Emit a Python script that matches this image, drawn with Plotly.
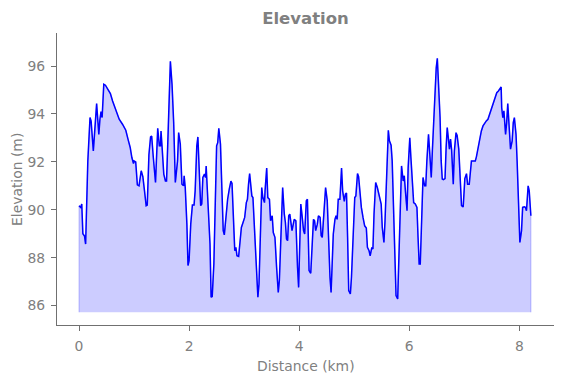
import plotly.graph_objects as go

distance_km = [
    0.00, 0.03, 0.05, 0.07, 0.10, 0.12, 0.16, 0.20, 0.22, 0.26, 0.32, 0.34, 0.36, 0.38, 0.40, 0.42,
    0.45, 0.48, 0.51, 0.55, 0.57, 0.61, 0.65, 0.68, 0.73, 0.79, 0.85, 0.89, 0.93, 0.96, 0.99, 1.00,
    1.03, 1.06, 1.09, 1.13, 1.16, 1.19, 1.22, 1.24, 1.27, 1.30, 1.32, 1.35, 1.39, 1.43, 1.46, 1.48,
    1.49, 1.51, 1.54, 1.57, 1.59, 1.61, 1.64, 1.66, 1.69, 1.72, 1.75, 1.79, 1.81, 1.84, 1.87, 1.90,
    1.91, 1.93, 1.96, 1.98, 2.00, 2.03, 2.06, 2.09, 2.11, 2.14, 2.16, 2.18, 2.21, 2.23, 2.25, 2.28,
    2.30, 2.31, 2.34, 2.38, 2.40, 2.42, 2.45, 2.48, 2.50, 2.52, 2.54, 2.57, 2.59, 2.62, 2.64, 2.68,
    2.70, 2.73, 2.76, 2.78, 2.81, 2.83, 2.85, 2.87, 2.90, 2.92, 2.95, 2.98, 3.01, 3.04, 3.06, 3.08,
    3.10, 3.14, 3.16, 3.19, 3.22, 3.25, 3.27, 3.29, 3.32, 3.34, 3.37, 3.38, 3.41, 3.43, 3.46, 3.48,
    3.51, 3.53, 3.56, 3.59, 3.62, 3.64, 3.66, 3.68, 3.70, 3.73, 3.75, 3.77, 3.79, 3.81, 3.83, 3.87,
    3.89, 3.91, 3.94, 3.96, 3.97, 3.99, 4.03, 4.05, 4.08, 4.10, 4.13, 4.15, 4.17, 4.18, 4.21, 4.23,
    4.26, 4.28, 4.30, 4.33, 4.35, 4.38, 4.40, 4.42, 4.44, 4.46, 4.48, 4.51, 4.53, 4.56, 4.58, 4.60,
    4.62, 4.65, 4.67, 4.69, 4.71, 4.74, 4.77, 4.79, 4.82, 4.84, 4.86, 4.88, 4.90, 4.93, 4.95, 4.98,
    5.01, 5.03, 5.06, 5.08, 5.11, 5.13, 5.16, 5.19, 5.22, 5.24, 5.27, 5.29, 5.32, 5.34, 5.36, 5.39,
    5.42, 5.45, 5.49, 5.51, 5.54, 5.56, 5.59, 5.62, 5.64, 5.67, 5.69, 5.72, 5.74, 5.76, 5.79, 5.82,
    5.84, 5.86, 5.89, 5.91, 5.93, 5.96, 5.98, 6.01, 6.03, 6.06, 6.08, 6.11, 6.14, 6.16, 6.18, 6.20,
    6.23, 6.25, 6.28, 6.30, 6.32, 6.35, 6.37, 6.40, 6.42, 6.45, 6.47, 6.49, 6.51, 6.53, 6.56, 6.58,
    6.60, 6.62, 6.65, 6.67, 6.69, 6.71, 6.73, 6.75, 6.77, 6.80, 6.82, 6.85, 6.87, 6.90, 6.93, 6.95,
    6.98, 7.00, 7.01, 7.04, 7.06, 7.09, 7.11, 7.13, 7.17, 7.20, 7.22, 7.25, 7.28, 7.31, 7.34, 7.37,
    7.40, 7.43, 7.46, 7.49, 7.52, 7.56, 7.59, 7.62, 7.64, 7.67, 7.68, 7.70, 7.72, 7.75, 7.77, 7.79,
    7.82, 7.84, 7.87, 7.89, 7.91, 7.94, 7.96, 7.98, 7.99, 8.01, 8.04, 8.06, 8.09, 8.11, 8.13, 8.14,
    8.16, 8.18, 8.21,
]

elevation_m = [
    90.17, 90.10, 90.24, 89.00, 88.90, 88.57, 92.04, 93.85, 93.70, 92.46, 94.43, 93.85, 93.15, 93.78, 94.10, 93.85,
    95.24, 95.20, 95.07, 94.93, 94.85, 94.54, 94.26, 94.10, 93.78, 93.57, 93.32, 92.95, 92.60, 92.18, 91.93, 92.04,
    92.00, 91.04, 91.00, 91.63, 91.38, 90.79, 90.17, 90.20, 92.30, 93.04, 93.08, 92.18, 91.14, 93.40, 92.67, 92.67,
    93.29, 92.60, 91.49, 91.20, 91.20, 92.60, 94.54, 96.20, 95.24, 93.64, 91.14, 92.04, 93.22, 92.74, 91.07, 91.00,
    91.42, 90.93, 89.40, 87.67, 87.88, 89.40, 90.20, 90.20, 90.79, 92.67, 93.04, 91.90, 90.17, 90.24, 91.35, 91.49,
    91.35, 91.83, 90.65, 88.57, 86.35, 86.38, 87.74, 91.63, 92.67, 92.80, 93.40, 92.74, 91.07, 89.13, 88.95, 90.10,
    90.44, 90.86, 91.20, 91.10, 89.26, 88.29, 88.43, 88.08, 88.05, 88.57, 89.26, 89.47, 89.68, 90.30, 90.44, 91.07,
    91.51, 90.58, 90.51, 89.13, 87.74, 86.35, 86.90, 88.85, 90.93, 90.51, 90.30, 90.79, 91.74, 90.51, 90.44, 89.54,
    89.75, 89.05, 88.85, 87.60, 86.55, 87.04, 88.57, 90.30, 90.93, 89.82, 89.47, 88.78, 88.71, 89.75, 89.82, 89.13,
    89.33, 89.60, 89.54, 88.01, 87.60, 86.76, 90.24, 89.82, 89.13, 88.99, 90.38, 90.44, 88.90, 87.46, 87.35, 88.57,
    89.60, 89.54, 89.13, 89.40, 89.75, 89.68, 88.92, 88.85, 89.54, 89.82, 90.93, 90.38, 88.85, 87.18, 86.55, 87.74,
    88.99, 89.60, 89.75, 89.60, 90.44, 90.44, 91.74, 90.79, 90.35, 90.65, 90.70, 88.85, 86.63, 86.49, 87.18, 88.85,
    90.51, 90.58, 91.51, 91.38, 90.38, 90.10, 89.68, 89.33, 89.24, 88.43, 88.29, 88.08, 88.43, 88.36, 89.82, 91.14,
    90.93, 90.65, 90.24, 89.26, 88.64, 89.54, 91.35, 93.32, 92.88, 92.70, 92.04, 89.54, 87.60, 86.42, 86.28, 88.29,
    90.38, 91.83, 91.20, 91.42, 90.79, 89.96, 91.76, 93.01, 92.18, 91.07, 90.30, 90.24, 90.10, 88.85, 87.74, 87.74,
    90.24, 91.35, 91.00, 91.00, 92.04, 93.15, 92.46, 91.35, 92.46, 94.26, 95.24, 95.93, 96.32, 95.51, 93.85, 92.04,
    91.28, 91.26, 91.30, 92.60, 93.43, 93.00, 92.53, 92.95, 92.50, 91.07, 92.46, 93.22, 93.10, 92.53, 91.35, 90.17,
    90.12, 91.20, 91.30, 91.51, 91.07, 91.07, 91.49, 92.04, 92.04, 92.04, 92.21, 92.60, 92.95, 93.29, 93.50, 93.64,
    93.71, 93.78, 93.99, 94.15, 94.40, 94.68, 94.89, 94.96, 95.03, 95.13, 94.26, 93.85, 94.13, 93.15, 93.64, 94.43,
    93.29, 92.53, 92.88, 93.64, 93.85, 93.15, 92.04, 90.79, 89.54, 88.64, 89.13, 90.10, 90.12, 90.10, 89.96, 90.50,
    91.00, 90.79, 89.75,
]

fill_base_m = 85.72
x_ticks = [0, 2, 4, 6, 8]
y_ticks = [86, 88, 90, 92, 94, 96]

grey_text = "#808080"
grey_line = "#707070"
font_family = "DejaVu Sans"

fig = go.Figure()

# Filled area polygon down to the base level
fig.add_trace(go.Scatter(
    x=[distance_km[0]] + distance_km + [distance_km[-1]],
    y=[fill_base_m] + elevation_m + [fill_base_m],
    fill="toself",
    fillcolor="rgba(0,0,255,0.2)",
    line=dict(color="rgba(0,0,255,0.2)", width=1.2),
    mode="lines",
    hoverinfo="skip",
    showlegend=False,
))

fig.add_trace(go.Scatter(
    x=distance_km,
    y=elevation_m,
    mode="lines",
    line=dict(color="#0000ff", width=1.5),
    showlegend=False,
))

axis_common = dict(
    showgrid=False,
    zeroline=False,
    showline=True,
    linecolor=grey_line,
    linewidth=1,
    ticks="outside",
    ticklen=5,
    tickwidth=1,
    tickcolor=grey_line,
    tickfont=dict(family=font_family, size=13.9, color=grey_text),
    ticklabelstandoff=3,
)

fig.update_layout(
    width=563,
    height=378,
    margin=dict(l=57, r=9, t=33, b=53),
    paper_bgcolor="white",
    plot_bgcolor="white",
    title=dict(
        text="<b>Elevation</b>",
        font=dict(family=font_family, size=16.5, color=grey_text),
        x=0.5, xref="paper", xanchor="center",
        y=1 - 18 / 378, yref="container", yanchor="middle",
    ),
    xaxis=dict(range=[-0.40, 8.63], tickvals=x_ticks, **axis_common),
    yaxis=dict(range=[85.19, 97.38], tickvals=y_ticks, **axis_common),
    annotations=[
        dict(text="Distance (km)", xref="paper", yref="paper", x=0.5, y=-0.14,
             xanchor="center", yanchor="middle", showarrow=False,
             font=dict(family=font_family, size=13.9, color=grey_text)),
        dict(text="Elevation (m)", xref="paper", yref="paper", x=-0.0805, y=0.5,
             xanchor="center", yanchor="middle", textangle=-90, showarrow=False,
             font=dict(family=font_family, size=13.9, color=grey_text)),
    ],
)

fig.write_html(
    "out.html",
    config={"displayModeBar": False},
    post_script="document.body.style.margin='0';document.body.style.padding='0';document.body.style.overflow='hidden';",
)
